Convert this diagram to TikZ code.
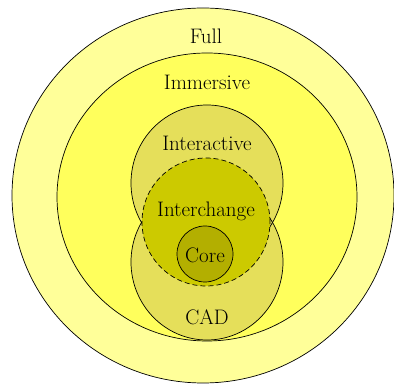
\documentclass[tikz,border=0pt]{standalone}
\usepackage{xcolor}
\usepackage{tikz}

\definecolor{fullyel}{HTML}{FFFF99}
\definecolor{immyel}{HTML}{FFFF5C}
\definecolor{actyel}{HTML}{E5DF5A}
\definecolor{chgyel}{HTML}{CCCA00}
\definecolor{coreyel}{HTML}{B3AF00}

\begin{document}
\begin{tikzpicture}[x=1pt,y=1pt,
    ring/.style={draw=black,line width=0.7pt},
    lbl/.style={font=\rmfamily\fontsize{21}{25}\selectfont,inner sep=0pt}]
  \useasboundingbox (0,0) rectangle (394,385);
  \begin{scope}
  \clip (0,0) rectangle (394,385);
  % outer levels
  \fill[fullyel,ring] (203,189.5) ellipse [x radius=191,y radius=187.5];
  \fill[immyel,ring] (207,188) ellipse [x radius=150,y radius=144];
  % interactive and cad
  \foreach \cy in {202,123} {
    \fill[actyel] (207,\cy) ellipse [x radius=76,y radius=78];
  }
  \foreach \cy in {202,123} {
    \draw[ring] (207,\cy) ellipse [x radius=76,y radius=78];
  }
  % interchange and core
  \fill[chgyel,ring,dash pattern=on 5pt off 3pt] (206,163) circle [radius=64];
  \fill[coreyel,ring] (205,131) circle [radius=28];
  \end{scope}
  \node[lbl] (full) at (206,349) {Full};
  \node[lbl] (immersive) at (207,303) {Immersive};
  \node[lbl] (interactive) at (207,242) {Interactive};
  \node[lbl] (interchange) at (206,174) {Interchange};
  \node[lbl] (core) at (205,130) {Core};
  \node[lbl] (cad) at (207,68) {CAD};
\end{tikzpicture}
\end{document}
